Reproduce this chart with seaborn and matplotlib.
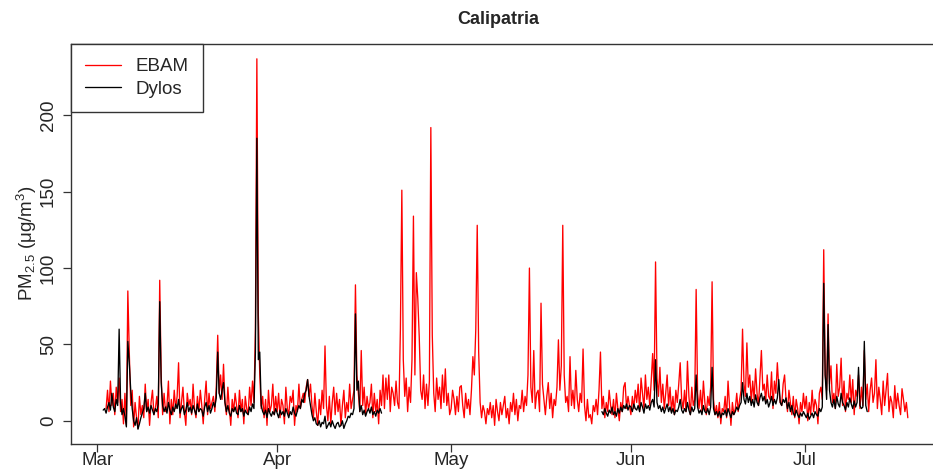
import matplotlib
matplotlib.use("Agg")
import numpy as np
import pandas as pd
import seaborn as sns
import matplotlib.pyplot as plt
import matplotlib.dates as mdates
from matplotlib.lines import Line2D

# ---------------- data (6-hourly readings, µg/m3) ----------------
# EBAM: 2016-03-02 12:00 -> 2016-07-18 18:00
ebam_mar = [8, 20,
            6, 26, 10, 18,   4, 22, 12, 28,   6, 14, -2, 18,   -3, 85, 45, 10,
            20, -4, 12, 2,   -5, 16, 4, 10,   2, 24, 6, 14,    -3, 12, 20, 4,
            8, 16, 2, 92,    30, 4, 18, 6,    10, 26, -2, 14,  4, 20, 8, 16,
            38, 2, 12, 22,   6, -3, 18, 10,   14, 4, 24, 8,    2, 16, 6, 20,
            10, -2, 14, 26,  4, 18, 8, 12,    16, 6, 22, 56,   18, 30, 14, 37,
            12, 4, 22, 8,    -3, 14, 6, 18,   10, 2, 20, 6,    14, -2, 16, 8,
            4, 22, 10, 26,   12, 60, 237, 70, 30, 8, 16, 2,    14, -3, 20, 6,
            10, 24, 4, 16]
ebam_apr = [6, 18, 2, 14,    10, -2, 22, 8,   4, 16, 12, 20,   -3, 10, 6, 24,
            8, 14, 18, 12,   22, 27, 16, 24,  10, 2, 18, 6,    -3, 14, 4, 20,
            8, 49, 10, 0,    16, -2, 12, 22,  4, 18, 6, 14,    -3, 10, 20, 2,
            12, 6, 24, 8,    14, 20, 89, 30,  18, 6, 46, 10,   22, 4, 16, 8,
            12, 24, 2, 18,   6, 14, -2, 20,   10, 30, 8, 28,   14, 30, 6, 22,
            18, 10, 26, 12,  8, 60, 151, 40,  16, 28, 6, 22,   12, 40, 134, 30,
            97, 80, 55, 20,  14, 30, 8, 24,   10, 26, 192, 56, 18, 6, 28, 14,
            22, 8, 30, 12,   34, 10, 18, 4]
ebam_may = [8, 20, 14, 4,    16, 6, 22, 23,   10, 2, 18, 8,    14, 4, 20, 42,
            30, 60, 128, 45, 12, 2, 10, 6,    -2, 8, 4, 12,    2, 10, -3, 14,
            6, 0, 12, 4,     10, 16, 2, 8,    -2, 12, 6, 18,   4, 14, 0, 10,
            8, 20, 6, 16,    10, 30, 100, 22, 12, 46, 8, 18,   20, 6, 77, 24,
            14, 4, 16, 25,   8, 18, 2, 14,    10, 22, 53, 20,  36, 128, 30, 12,
            16, 6, 42, 10,   20, 8, 33, 14,   6, 18, 12, 47,   10, 0, 14, 2,
            4, -2, 10, 6,    14, 4, 20, 45,   8, 16, 2, 12,    6, 20, 10, 4,
            14, 2, 18, 8,    0, 12, 6, 22,    25, 8, 16, 10]
ebam_jun = [4, 16, 8, 20,    12, 24, 6, 28,   18, 8, 30, 14,   22, 10, 26, 44,
            20, 104, 28, 16, 35, 12, 24, 8,   18, 30, 10, 22,  6, 16, 4, 20,
            12, 24, 38, 14,  8, 20, 6, 39,    16, 4, 22, 10,   14, 86, 18, 8,
            20, 6, 26, 12,   4, 16, 10, 22,   91, 14, 4, 10,   2, 12, -2, 8,
            6, 16, 2, 26,    10, -3, 12, 4,   8, 18, 6, 14,    20, 60, 24, 16,
            51, 22, 30, 12,  26, 14, 34, 18,  10, 28, 46, 20,  24, 12, 30, 16,
            14, 32, 8, 26,   18, 38, 22, 12,  10, 24, 30, 14,  6, 20, 12, 4,
            16, 2, 14, 8,    -2, 12, 6, 18]
ebam_jul = [8, 16, 0, 12,    4, 20, 6, 14,    10, -2, 18, 22,  14, 112, 30, 20,
            70, 24, 36, 12,  18, 8, 37, 16,   22, 41, 10, 26,  6, 18, 14, 30,
            12, 27, 4, 20,   16, 30, 8, 22,   10, 46, 14, 24,  6, 20, 28, 12,
            18, 40, 8, 22,   14, 4, 26, 10,   20, 31, 6, 16,   12, 2, 23, 8,
            18, 10, 4, 21,   14, 6, 12, 2]

# Dylos, period 1: 2016-03-02 00:00 -> 2016-04-19 00:00
dylos_mar = [7, 8, 5, 9,     12, 7, 18, 9,    6, 14, 10, 60,   12, 4, 8, 3,
             -4, 52, 38, 20, 8, 0, -3, 2,     -5.5, -2, 2, 5,  8, 18, 6, 9,
             5, 10, 7, 4,    8, 6, 11, 78,    25, 10, 6, 9,    5, 12, 7, 4,
             9, 6, 11, 8,    14, 5, 8, 10,    4, 7, 12, 6,     9, 5, 10, 7,
             4, 11, 6, 8,    7, 3, 9, 12,     6, 10, 5, 8,     12, 9, 15, 45,
             18, 14, 20, 25, 12, 6, 10, 5,    3, 8, 6, 9,      5, 4, 10, 6,
             8, 3, 7, 5,     4, 9, 6, 11,     8, 45, 185, 40,  45, 10, 6, 4,
             7, 2, 8, 5,     3, 6, 4, 8]
dylos_apr = [5, 2, 7, 4,     6, 3, 8, 5,      2, 6, 4, 9,      5, 3, 7, 10,
             8, 14, 12, 18,  20, 27, 16, 10,  4, 0, 2, -2,     -3, 0, -4, -1,
             -2, 3, -5, -3,  -1, -4, 0, -3,   -5, -2, -1, -4,  -3, 0, -5, -2,
             0, 3, 2, 5,     4, 8, 70, 20,    26, 6, 10, 4,    7, 3, 6, 8,
             5, 9, 4, 6,     3, 7, 5, 8,      5]
# Dylos, period 2: 2016-05-27 00:00 -> 2016-07-11 18:00
dylos_may = [6, 4, 8, 5,     3, 7, 5, 9,      4, 6, 3, 8,      5, 9, 6, 10,
             8, 11, 7, 10]
dylos_jun = [9, 6, 11, 8,    7, 10, 6, 12,    9, 5, 11, 8,     10, 7, 12, 14,
             9, 40, 12, 8,   10, 6, 9, 5,     8, 11, 6, 9,     5, 8, 4, 7,
             6, 9, 14, 7,    5, 8, 6, 12,     7, 4, 9, 6,      8, 30, 9, 5,
             7, 4, 10, 6,    5, 8, 4, 9,      35, 8, 4, 6,     3, 6, 2, 5,
             4, 7, 3, 8,     5, 2, 6, 4,      6, 9, 7, 10,     12, 25, 14, 11,
             18, 12, 16, 10, 14, 9, 17, 12,   10, 15, 18, 13,  16, 11, 14, 9,
             12, 16, 10, 14, 11, 15, 27, 12,  10, 14, 12, 15,  8, 12, 6, 10,
             5, 3, 7, 4,     2, 5, 3, 6]
dylos_jul = [4, 2, 5, 1,     3, 5, 2, 6,      4, 3, 8, 6,      9, 90, 30, 14,
             63, 20, 12, 9,  14, 8, 16, 11,   9, 18, 12, 10,   7, 12, 9, 15,
             11, 8, 13, 9,   12, 35, 10, 8,   9, 52, 10, 6]

month_ticks = ["2016-03-01", "2016-04-01", "2016-05-01", "2016-06-01", "2016-07-01"]
month_labels = ["Mar", "Apr", "May", "Jun", "Jul"]
series_labels = ["EBAM", "Dylos"]
title_text = "Calipatria"

# ---------------- frames ----------------
ebam = ebam_mar + ebam_apr + ebam_may + ebam_jun + ebam_jul
dyl1 = dylos_mar + dylos_apr
dyl2 = dylos_may + dylos_jun + dylos_jul
df_e = pd.DataFrame({"time": pd.date_range("2016-03-02 12:00", periods=len(ebam), freq="6h"),
                     "pm": ebam})
df_d1 = pd.DataFrame({"time": pd.date_range("2016-03-02 00:00", periods=len(dyl1), freq="6h"),
                      "pm": dyl1})
df_d2 = pd.DataFrame({"time": pd.date_range("2016-05-27 00:00", periods=len(dyl2), freq="6h"),
                      "pm": dyl2})

# ---------------- plot ----------------
sns.set_style("white")
plt.rcParams["font.family"] = ["Liberation Sans", "DejaVu Sans"]
plt.rcParams["mathtext.fontset"] = "custom"
plt.rcParams["mathtext.rm"] = "Liberation Sans"
plt.rcParams["mathtext.it"] = "Liberation Sans:italic"
plt.rcParams["mathtext.bf"] = "Liberation Sans:bold"

fig = plt.figure(figsize=(9.33, 4.72), dpi=100)
ax = fig.add_axes([71 / 933, 28 / 472, 869 / 933, 400 / 472])

lw = 0.95
sns.lineplot(data=df_e, x="time", y="pm", color="red", lw=lw, ax=ax, estimator=None)
sns.lineplot(data=df_d1, x="time", y="pm", color="black", lw=lw, ax=ax, estimator=None)
sns.lineplot(data=df_d2, x="time", y="pm", color="black", lw=lw, ax=ax, estimator=None)

# R-style 4% padded ranges
allt = pd.concat([df_e.time, df_d1.time, df_d2.time])
t0, t1 = mdates.date2num(allt.min()), mdates.date2num(allt.max())
ax.set_xlim(t0 - 0.04 * (t1 - t0), t1 + 0.04 * (t1 - t0))
allv = pd.concat([df_e.pm, df_d1.pm, df_d2.pm])
v0, v1 = allv.min(), allv.max()
ax.set_ylim(v0 - 0.04 * (v1 - v0), v1 + 0.04 * (v1 - v0))

ax.set_xticks(mdates.date2num(pd.to_datetime(month_ticks)))
ax.set_xticklabels(month_labels)
ax.set_yticks([0, 50, 100, 150, 200])
ax.set_xlabel("")
ax.set_ylabel("")
ax.tick_params(axis="both", which="both", direction="out", length=6, width=0.9,
               color="#333333", labelsize=13.5, bottom=True, left=True, top=False, right=False)
ax.tick_params(axis="x", pad=0)
ax.tick_params(axis="y", pad=4)
for lbl in ax.get_yticklabels():
    lbl.set_rotation(90)
    lbl.set_va("center")

for s in ax.spines.values():
    s.set_visible(True)
    s.set_color("#333333")
    s.set_linewidth(1.0)

handles = [Line2D([], [], color="red", lw=lw), Line2D([], [], color="black", lw=lw)]
leg = ax.legend(handles, series_labels, loc="upper left", bbox_to_anchor=(0, 1),
                borderaxespad=0, frameon=True, fancybox=False, edgecolor="#333333",
                framealpha=1, fontsize=13.5, handlelength=1.9, handletextpad=0.8,
                labelspacing=0.28, borderpad=0.75)
leg.get_frame().set_linewidth(1.0)

fig.text(498 / 933, 1 - 20 / 472, title_text, ha="center", va="center",
         fontsize=13, fontweight="bold")
fig.text(27 / 933, 1 - 243 / 472, "PM$_{2.5}$ (μg/m$^{3}$)", rotation=90,
         ha="center", va="center", fontsize=13.5)

fig.savefig("out.png", dpi=100)
